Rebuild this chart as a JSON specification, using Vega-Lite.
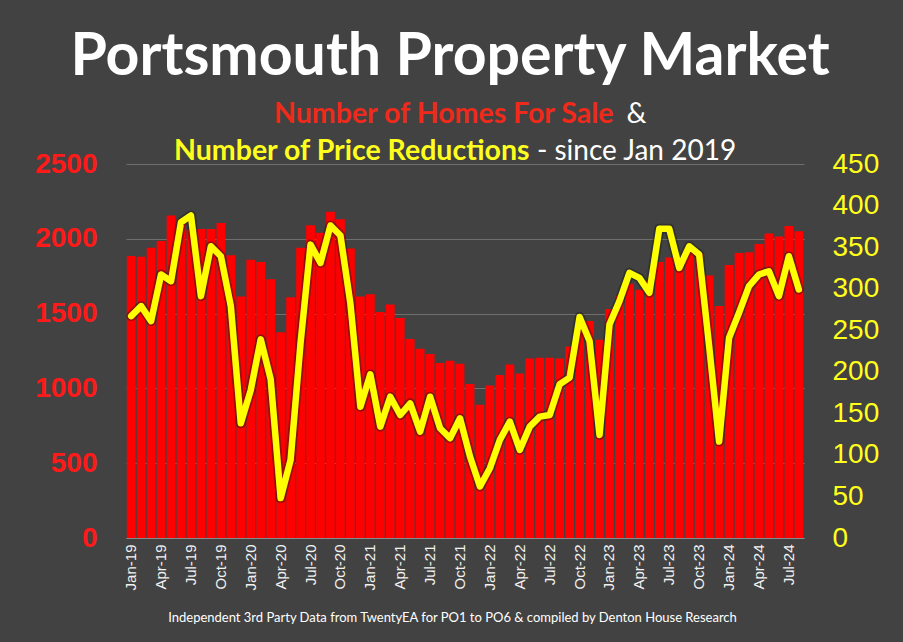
{
  "$schema": "https://vega.github.io/schema/vega-lite/v6.json",
  "width": 678,
  "height": 374,
  "autosize": {"type": "none"},
  "padding": {"left": 126, "top": 164, "right": 99, "bottom": 104},
  "background": "#424242",
  "config": {
    "view": {"stroke": null},
    "font": "Lato"
  },
  "title": {
    "text": "Portsmouth Property Market",
    "font": "Lato",
    "fontWeight": "bold",
    "fontSize": 59,
    "color": "#ffffff",
    "anchor": "middle",
    "frame": "group",
    "dx": -15,
    "offset": 12
  },
  "data": {
    "values": [
      {"m": "Jan-19", "homes": 1885, "red": 267},
      {"m": "Feb-19", "homes": 1880, "red": 279},
      {"m": "Mar-19", "homes": 1940, "red": 261},
      {"m": "Apr-19", "homes": 1985, "red": 317},
      {"m": "May-19", "homes": 2155, "red": 309},
      {"m": "Jun-19", "homes": 2130, "red": 380},
      {"m": "Jul-19", "homes": 2060, "red": 388},
      {"m": "Aug-19", "homes": 2065, "red": 291},
      {"m": "Sep-19", "homes": 2065, "red": 351},
      {"m": "Oct-19", "homes": 2105, "red": 339},
      {"m": "Nov-19", "homes": 1890, "red": 279},
      {"m": "Dec-19", "homes": 1615, "red": 138},
      {"m": "Jan-20", "homes": 1860, "red": 178},
      {"m": "Feb-20", "homes": 1845, "red": 239},
      {"m": "Mar-20", "homes": 1730, "red": 191},
      {"m": "Apr-20", "homes": 1375, "red": 48},
      {"m": "May-20", "homes": 1610, "red": 94},
      {"m": "Jun-20", "homes": 1940, "red": 235},
      {"m": "Jul-20", "homes": 2090, "red": 353},
      {"m": "Aug-20", "homes": 2040, "red": 331},
      {"m": "Sep-20", "homes": 2180, "red": 376},
      {"m": "Oct-20", "homes": 2130, "red": 364},
      {"m": "Nov-20", "homes": 1935, "red": 282},
      {"m": "Dec-20", "homes": 1615, "red": 158},
      {"m": "Jan-21", "homes": 1630, "red": 197},
      {"m": "Feb-21", "homes": 1510, "red": 134},
      {"m": "Mar-21", "homes": 1560, "red": 170},
      {"m": "Apr-21", "homes": 1470, "red": 148},
      {"m": "May-21", "homes": 1330, "red": 162},
      {"m": "Jun-21", "homes": 1265, "red": 128},
      {"m": "Jul-21", "homes": 1230, "red": 170},
      {"m": "Aug-21", "homes": 1170, "red": 132},
      {"m": "Sep-21", "homes": 1185, "red": 120},
      {"m": "Oct-21", "homes": 1165, "red": 144},
      {"m": "Nov-21", "homes": 1030, "red": 98},
      {"m": "Dec-21", "homes": 890, "red": 62},
      {"m": "Jan-22", "homes": 1020, "red": 84},
      {"m": "Feb-22", "homes": 1090, "red": 118},
      {"m": "Mar-22", "homes": 1160, "red": 140},
      {"m": "Apr-22", "homes": 1100, "red": 106},
      {"m": "May-22", "homes": 1200, "red": 134},
      {"m": "Jun-22", "homes": 1205, "red": 146},
      {"m": "Jul-22", "homes": 1205, "red": 148},
      {"m": "Aug-22", "homes": 1200, "red": 185},
      {"m": "Sep-22", "homes": 1280, "red": 193},
      {"m": "Oct-22", "homes": 1400, "red": 266},
      {"m": "Nov-22", "homes": 1450, "red": 237},
      {"m": "Dec-22", "homes": 1325, "red": 124},
      {"m": "Jan-23", "homes": 1530, "red": 257},
      {"m": "Feb-23", "homes": 1620, "red": 285},
      {"m": "Mar-23", "homes": 1700, "red": 319},
      {"m": "Apr-23", "homes": 1660, "red": 313},
      {"m": "May-23", "homes": 1720, "red": 295},
      {"m": "Jun-23", "homes": 1845, "red": 372},
      {"m": "Jul-23", "homes": 1875, "red": 372},
      {"m": "Aug-23", "homes": 1830, "red": 325},
      {"m": "Sep-23", "homes": 1935, "red": 351},
      {"m": "Oct-23", "homes": 1900, "red": 341},
      {"m": "Nov-23", "homes": 1755, "red": 231},
      {"m": "Dec-23", "homes": 1550, "red": 116},
      {"m": "Jan-24", "homes": 1825, "red": 241},
      {"m": "Feb-24", "homes": 1905, "red": 271},
      {"m": "Mar-24", "homes": 1910, "red": 303},
      {"m": "Apr-24", "homes": 1965, "red": 317},
      {"m": "May-24", "homes": 2035, "red": 321},
      {"m": "Jun-24", "homes": 2015, "red": 291},
      {"m": "Jul-24", "homes": 2085, "red": 339},
      {"m": "Aug-24", "homes": 2050, "red": 299}
    ]
  },
  "layer": [
    {
      "mark": {"type": "bar", "color": "#ff0000"},
      "encoding": {
        "x": {
          "field": "m",
          "type": "ordinal",
          "sort": null,
          "scale": {"paddingInner": 0.12, "paddingOuter": 0.08},
          "axis": {
            "orient": "bottom",
            "values": ["Jan-19","Apr-19","Jul-19","Oct-19","Jan-20","Apr-20","Jul-20","Oct-20","Jan-21","Apr-21","Jul-21","Oct-21","Jan-22","Apr-22","Jul-22","Oct-22","Jan-23","Apr-23","Jul-23","Oct-23","Jan-24","Apr-24","Jul-24"],
            "labelAngle": -90,
            "labelAlign": "right",
            "labelBaseline": "middle",
            "labelFont": "Liberation Sans",
            "labelFontSize": 15,
            "labelColor": "#f2f2f2",
            "labelPadding": 6,
            "ticks": false,
            "domain": true,
            "domainColor": "#8a8a8a",
            "grid": false,
            "title": "Independent 3rd Party Data from TwentyEA for PO1 to PO6 & compiled by Denton House Research",
            "titleFont": "Lato",
            "titleFontWeight": "normal",
            "titleFontSize": 13,
            "titleColor": "#ffffff",
            "titleAngle": 0,
            "titleAlign": "center",
            "titleBaseline": "alphabetic",
            "titleX": 326,
            "titleY": 83
          }
        },
        "y": {
          "field": "homes",
          "type": "quantitative",
          "scale": {"domain": [0, 2500], "nice": false},
          "axis": {
            "orient": "left",
            "values": [0, 500, 1000, 1500, 2000, 2500],
            "format": "d",
            "labelFont": "Liberation Sans",
            "labelFontWeight": "bold",
            "labelFontSize": 28,
            "labelColor": "#ff1a1a",
            "labelPadding": 29,
            "ticks": false,
            "domain": false,
            "grid": true,
            "gridColor": "#6e6e6e",
            "gridWidth": 1,
            "title": "Number of Homes For Sale",
            "titleFont": "Lato",
            "titleFontWeight": "bold",
            "titleFontSize": 28.5,
            "titleColor": "#f02a1a",
            "titleAngle": 0,
            "titleAlign": "right",
            "titleBaseline": "alphabetic",
            "titleX": 487,
            "titleY": -42
          }
        }
      }
    },
    {
      "layer": [
        {
          "mark": {"type": "line", "color": "#1a1a1a", "opacity": 0.45, "strokeWidth": 10, "strokeJoin": "round", "strokeCap": "round"},
          "encoding": {
            "x": {
              "field": "m",
              "type": "ordinal",
              "sort": null,
              "axis": {
                "orient": "top",
                "labels": false,
                "ticks": false,
                "domain": false,
                "grid": false,
                "title": ["&", "- since Jan 2019"],
                "titleFont": "Lato",
                "titleFontWeight": "normal",
                "titleFontSize": 28,
                "titleColor": "#ffffff",
                "titleAngle": 0,
                "titleAlign": "center",
                "titleBaseline": "alphabetic",
                "titleLineHeight": 37,
                "titleX": 510,
                "titleY": -42
              }
            },
            "y": {
              "field": "red",
              "type": "quantitative",
              "scale": {"domain": [0, 450], "nice": false},
              "axis": {
                "orient": "right",
                "values": [0, 50, 100, 150, 200, 250, 300, 350, 400, 450],
                "labelFont": "Liberation Sans",
                "labelFontSize": 28,
                "labelColor": "#ffff1a",
                "labelPadding": 28,
                "ticks": false,
                "domain": false,
                "grid": false,
                "title": "Number of Price Reductions",
                "titleFont": "Lato",
                "titleFontWeight": "bold",
                "titleFontSize": 28.5,
                "titleColor": "#ffff1e",
                "titleAngle": 0,
                "titleAlign": "right",
                "titleBaseline": "alphabetic",
                "titleX": -275,
                "titleY": -5
              }
            }
          }
        },
        {
          "mark": {"type": "line", "color": "#ffff00", "strokeWidth": 6.5, "strokeJoin": "round", "strokeCap": "round"},
          "encoding": {
            "x": {"field": "m", "type": "ordinal", "sort": null},
            "y": {"field": "red", "type": "quantitative"}
          }
        }
      ]
    }
  ],
  "resolve": {"scale": {"y": "independent"}, "axis": {"x": "independent"}}
}
